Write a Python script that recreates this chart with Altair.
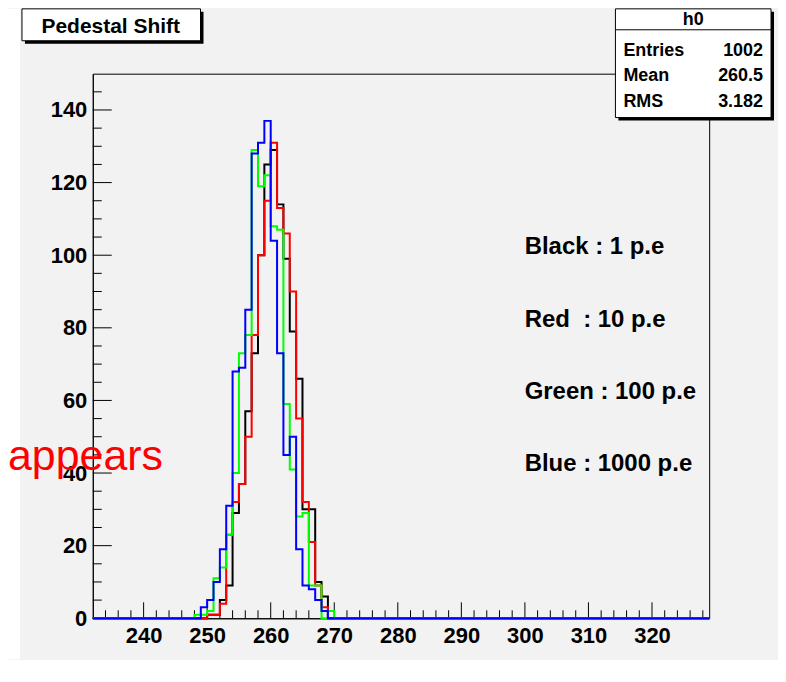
import altair as alt
import pandas as pd

# ---- data (bin low edges, 1-unit bins) ----
bins = list(range(248, 270))
black = [0, 0, 1, 1, 5, 9, 29, 37, 57, 73, 100, 125, 129, 114, 99, 79, 66, 30, 30, 10, 6, 0]
red = [0, 0, 1, 1, 4, 23, 32, 37, 50, 78, 100, 115, 131, 113, 106, 90, 55, 32, 21, 9, 3, 0]
green = [1, 1, 2, 11, 14, 23, 40, 73, 78, 129, 119, 122, 108, 107, 59, 41, 28, 29, 9, 9, 0, 2]
blue = [0, 3, 5, 10, 19, 31, 68, 69, 85, 128, 131, 137, 104, 73, 45, 50, 19, 9, 8, 5, 2, 0]

x_labels = [240, 250, 260, 270, 280, 290, 300, 310, 320]
y_labels = [0, 20, 40, 60, 80, 100, 120, 140]
x_minor = [v for v in range(234, 329, 2) if v % 10 != 0]
y_minor = [v for v in range(5, 150, 5) if v % 20 != 0]

legend_lines = ["Black : 1 p.e", "Red \u00a0: 10 p.e", "Green : 100 p.e", "Blue : 1000 p.e"]
stats_names = ["Entries", "Mean", "RMS"]
stats_values = ["1002", "260.5", "3.182"]

X_MIN, X_MAX = 232, 329
FONT = "Liberation Sans, Arial, sans-serif"
W, H = 618, 546


def series_df(counts):
    m = dict(zip(bins, counts))
    edges = list(range(X_MIN, X_MAX + 1))
    return pd.DataFrame({"x": edges, "y": [m.get(e, 0) for e in edges]})


xs = alt.Scale(domain=[X_MIN, X_MAX], nice=False, zero=False)
ys = alt.Scale(domain=[0, 150], nice=False, zero=False)

x_axis = alt.Axis(values=x_labels, ticks=False, tickSize=0, grid=False, domain=True,
                  domainColor="black", labelFont=FONT, labelFontSize=22,
                  labelFontWeight="bold", labelColor="black", labelPadding=7,
                  title=None, labelFlush=False, format="d")
y_axis = alt.Axis(values=y_labels, ticks=False, tickSize=0, grid=False, domain=True,
                  domainColor="black", labelFont=FONT, labelFontSize=22,
                  labelFontWeight="bold", labelColor="black", labelPadding=6,
                  title=None, labelFlush=False, format="d")

one = pd.DataFrame({"a": [0]})

# white strip at far left (outside the ROOT canvas)
left_strip = alt.Chart(one).mark_rect(fill="white").encode(
    x=alt.value(-85), x2=alt.value(-73), y=alt.value(-65), y2=alt.value(H + 41))


def line_layer(counts, color):
    return alt.Chart(series_df(counts)).mark_line(
        interpolate="step-after", color=color, strokeWidth=2).encode(
        x=alt.X("x:Q", scale=xs, axis=x_axis),
        y=alt.Y("y:Q", scale=ys, axis=y_axis))


def yticks(vals, length):
    return alt.Chart(pd.DataFrame({"v": vals})).mark_rule(color="black", strokeWidth=1).encode(
        y=alt.Y("v:Q", scale=ys, axis=y_axis), x=alt.value(0), x2=alt.value(length))


def xticks(vals, length):
    return alt.Chart(pd.DataFrame({"v": vals})).mark_rule(color="black", strokeWidth=1).encode(
        x=alt.X("v:Q", scale=xs, axis=x_axis), y=alt.value(H), y2=alt.value(H - length))


def box(x1, y1, x2, y2, fill):
    shadow = alt.Chart(one).mark_rect(fill="black").encode(
        x=alt.value(x1 + 3), x2=alt.value(x2 + 3), y=alt.value(y1 + 3), y2=alt.value(y2 + 3))
    face = alt.Chart(one).mark_rect(fill=fill, stroke="black", strokeWidth=1).encode(
        x=alt.value(x1), x2=alt.value(x2), y=alt.value(y1), y2=alt.value(y2))
    return [shadow, face]


def text(s, x, y, size, align="left", color="black", weight="bold", font=FONT):
    return alt.Chart(one).mark_text(align=align, baseline="alphabetic", font=font,
                                    fontSize=size, fontWeight=weight, color=color).encode(
        x=alt.value(x), y=alt.value(y), text=alt.value(s))


layers = [left_strip,
          line_layer(black, "#000000"),
          yticks(y_labels, 19), yticks(y_minor, 9),
          xticks(x_labels, 16), xticks(x_minor, 8),
          line_layer(red, "#ff0000"),
          line_layer(green, "#00ff00"),
          line_layer(blue, "#0000ff")]

# title box
layers += box(-71, -65, 108, -33, "white")
layers.append(text("Pedestal Shift", 18, -41, 21, align="center"))

# stats box
layers += box(524, -65, 680, 44, "white")
layers.append(alt.Chart(one).mark_rule(color="black", strokeWidth=1).encode(
    x=alt.value(524), x2=alt.value(680), y=alt.value(-44), y2=alt.value(-44)))
layers.append(text("h0", 602, -49, 18, align="center"))
for i, (n, v) in enumerate(zip(stats_names, stats_values)):
    yy = -18 + i * 25.5
    layers.append(text(n, 532, yy, 18))
    layers.append(text(v, 672, yy, 18, align="right"))

# legend texts
for i, s in enumerate(legend_lines):
    layers.append(text(s, 433, 181 + i * 72.5, 24))

# overlay text from the slide
layers.append(text("appears", -85, 397, 43, color="#ff0000", weight="normal"))

chart = alt.layer(*layers).properties(
    width=W, height=H,
    padding={"left": 85, "top": 65, "right": 69, "bottom": 41},
    autosize=alt.AutoSizeParams(type="none"),
    background="#f2f2f2",
).configure_view(stroke="black", strokeWidth=1, fill=None)

chart.save("out.html", embed_options={"renderer": "svg", "actions": False})
